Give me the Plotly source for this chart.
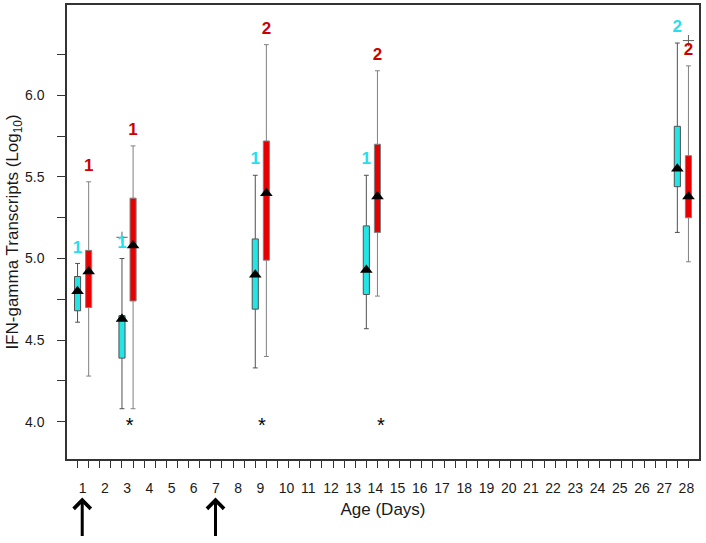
import plotly.graph_objects as go

# sampling days, each day has a cyan box (slot 2d-1) and a red box (slot 2d)
days = [1, 3, 9, 14, 28]

cyan_hi = [4.97, 5.00, 5.51, 5.51, 6.32]
cyan_q3 = [4.89, 4.65, 5.12, 5.20, 5.81]
cyan_mean = [4.80, 4.63, 4.90, 4.93, 5.55]
cyan_q1 = [4.68, 4.39, 4.69, 4.78, 5.44]
cyan_lo = [4.61, 4.08, 4.33, 4.57, 5.16]
cyan_n = ['1', '1', '1', '1', '2']

red_hi = [5.47, 5.69, 6.31, 6.15, 6.18]
red_q3 = [5.05, 5.37, 5.72, 5.70, 5.63]
red_mean = [4.92, 5.08, 5.40, 5.38, 5.38]
red_q1 = [4.70, 4.74, 4.99, 5.16, 5.25]
red_lo = [4.28, 4.08, 4.40, 4.77, 4.98]
red_n = ['1', '1', '2', '2', '2']

# single "+" points
cyan_out_days = [3]
cyan_out = [5.13]
red_out_days = [28]
red_out = [6.335]

# significance stars (slot units) and vaccination arrows
star_slot = [5.7, 17.6, 28.3]
star_y = [3.97, 3.97, 3.97]
arrow_days = [1, 7]

all_days = list(range(1, 29))
y_ticks = [4.0, 4.25, 4.5, 4.75, 5.0, 5.25, 5.5, 5.75, 6.0, 6.25]
y_labels = ['4.0', '', '4.5', '', '5.0', '', '5.5', '', '6.0', '']

CYAN = '#22e6e6'
RED = '#e80000'
FONT = 'Liberation Sans, Arial, sans-serif'

cyan_x = [2 * d - 1 for d in days]
red_x = [2 * d for d in days]

fig = go.Figure()

fig.add_trace(go.Box(
    x=cyan_x, q1=cyan_q1, median=cyan_mean, q3=cyan_q3,
    lowerfence=cyan_lo, upperfence=cyan_hi,
    width=0.55, whiskerwidth=0.8, fillcolor=CYAN,
    line=dict(color='#505050', width=1), boxpoints=False,
))
fig.add_trace(go.Box(
    x=red_x, q1=red_q1, median=red_mean, q3=red_q3,
    lowerfence=red_lo, upperfence=red_hi,
    width=0.55, whiskerwidth=0.8, fillcolor=RED,
    line=dict(color='#808080', width=1), boxpoints=False,
))

# means
fig.add_trace(go.Scatter(
    x=cyan_x + red_x, y=cyan_mean + red_mean, mode='markers',
    marker=dict(symbol='triangle-up', size=11, color='black'),
))

# outlying points
fig.add_trace(go.Scatter(
    x=[2 * d - 1 for d in cyan_out_days] + [2 * d for d in red_out_days],
    y=cyan_out + red_out, mode='markers',
    marker=dict(symbol='cross-thin', size=8, line=dict(color='#606060', width=1)),
))

# group size labels (invisible marker pushes the text up)
fig.add_trace(go.Scatter(
    x=cyan_x, y=cyan_hi, mode='markers+text', text=cyan_n, textposition='top center',
    marker=dict(size=9, opacity=0),
    textfont=dict(family=FONT, size=17, color='#22e0ee', weight='bold'),
))
fig.add_trace(go.Scatter(
    x=red_x, y=red_hi, mode='markers+text', text=red_n, textposition='top center',
    marker=dict(size=9, opacity=0),
    textfont=dict(family=FONT, size=17, color='#cc0000', weight='bold'),
))

# stars
fig.add_trace(go.Scatter(
    x=star_slot, y=star_y, mode='text', text=['*'] * len(star_slot),
    textfont=dict(family=FONT, size=20, color='black'),
))

for d in arrow_days:
    fig.add_annotation(
        x=2 * d - 1 + 0.42, y=-0.085, xref='x', yref='paper',
        text='', showarrow=True, ax=0, ay=40,
        arrowhead=4, arrowsize=1.1, arrowwidth=3, arrowcolor='black',
    )

slots = list(range(1, 2 * len(all_days) + 1))
slot_text = [str((s + 1) // 2) if s % 2 == 1 else '' for s in slots]

fig.update_layout(
    width=706, height=543,
    margin=dict(l=67, r=7, t=5, b=84),
    paper_bgcolor='white', plot_bgcolor='white',
    showlegend=False, boxmode='overlay',
    font=dict(family=FONT, size=14, color='#1a1a1a'),
    xaxis=dict(
        range=[0.05, 56.95], tickvals=slots, ticktext=slot_text,
        ticklabelposition='outside right', tickangle=0, ticklabelstandoff=15,
        ticks='outside', ticklen=7, tickcolor='#333',
        showgrid=False, zeroline=False,
        showline=True, mirror=True, linecolor='#333', linewidth=1.5,
        title=dict(text='Age (Days)', standoff=9),
        automargin=False,
    ),
    yaxis=dict(
        range=[3.772, 6.553], tickvals=y_ticks, ticktext=y_labels,
        ticks='outside', ticklen=8, tickcolor='#333', ticklabelstandoff=10,
        showgrid=False, zeroline=False,
        showline=True, mirror=True, linecolor='#333', linewidth=1.5,
        title=dict(text='IFN-gamma Transcripts (Log<sub>10</sub>)', standoff=0),
        automargin=False,
    ),
)

fig.write_html("out.html", config={'displayModeBar': False},
               post_script="document.body.style.margin='0';")
